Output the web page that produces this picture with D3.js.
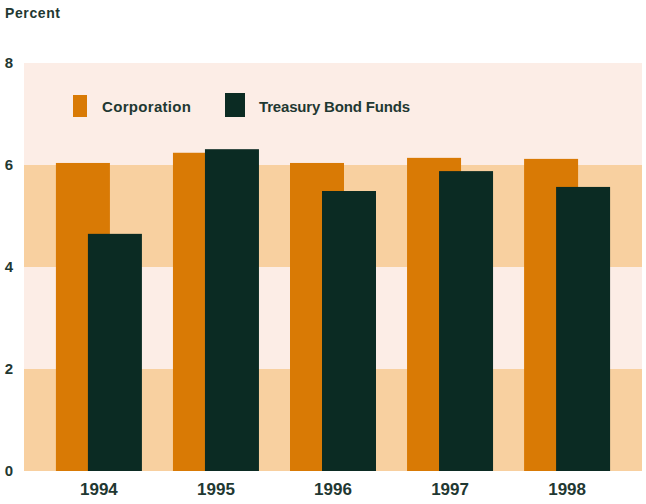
<!DOCTYPE html>
<html>
<head>
<meta charset="utf-8">
<script src="https://cdn.jsdelivr.net/npm/d3@7"></script>
<style>
  body { margin: 0; background: #fff; }
  text { font-family: "Liberation Sans Narrow", "Liberation Sans", Arial, sans-serif; font-weight: bold; fill: #1f3832; }
</style>
</head>
<body>
<svg id="chart"></svg>
<script>
// Data
const years = ["1994", "1995", "1996", "1997", "1998"];
const corporation = [6.04, 6.24, 6.04, 6.14, 6.12];
const treasury = [4.65, 6.31, 5.49, 5.88, 5.57];
const yTicks = [0, 2, 4, 6, 8];
const seriesNames = ["Corporation", "Treasury Bond Funds"];

const width = 646, height = 504;
const margin = { top: 63, right: 4, bottom: 33, left: 24 };
const innerW = width - margin.left - margin.right;
const innerH = height - margin.top - margin.bottom;
const font = "Liberation Sans Narrow, Liberation Sans, Arial, sans-serif";

const svg = d3.select("#chart")
  .attr("width", width)
  .attr("height", height);

const g = svg.append("g")
  .attr("transform", `translate(${margin.left},${margin.top})`);

const x = d3.scaleBand()
  .domain(years)
  .range([0, innerW])
  .paddingInner(0)
  .paddingOuter(0.14);

const y = d3.scaleLinear()
  .domain([0, 8])
  .range([innerH, 0]);

// alternating background bands
const bands = d3.pairs(yTicks);
g.selectAll(".band")
  .data(bands)
  .enter()
  .append("rect")
  .attr("class", "band")
  .attr("x", 0)
  .attr("width", innerW)
  .attr("y", d => y(d[1]))
  .attr("height", d => y(d[0]) - y(d[1]))
  .attr("fill", (d, i) => i % 2 === 0 ? "#f8d0a0" : "#fcede6");

// bars: orange sits behind, dark one overlaps to the right
const barW = 54;
const offset = 32;
const groupOffset = (x.bandwidth() - (barW + offset)) / 2;

g.selectAll(".corp")
  .data(corporation)
  .enter()
  .append("rect")
  .attr("class", "corp")
  .attr("x", (d, i) => x(years[i]) + groupOffset)
  .attr("y", d => y(d))
  .attr("width", barW)
  .attr("height", d => y(0) - y(d))
  .attr("fill", "#d97a05");

g.selectAll(".treas")
  .data(treasury)
  .enter()
  .append("rect")
  .attr("class", "treas")
  .attr("x", (d, i) => x(years[i]) + groupOffset + offset)
  .attr("y", d => y(d))
  .attr("width", barW)
  .attr("height", d => y(0) - y(d))
  .attr("fill", "#0b2b23");

// y axis labels
const yAxis = g.append("g")
  .call(d3.axisLeft(y).tickValues(yTicks).tickSize(0).tickPadding(11));
yAxis.select(".domain").remove();
yAxis.selectAll("text")
  .style("font-size", "15px")
  .style("font-family", font)
  .attr("fill", "#1f3832");

// x axis labels
const xAxis = g.append("g")
  .attr("transform", `translate(0,${innerH})`)
  .call(d3.axisBottom(x).tickSize(0).tickPadding(12));
xAxis.select(".domain").remove();
xAxis.selectAll("text")
  .style("font-size", "17px")
  .style("font-family", font)
  .attr("fill", "#1f3832");

// title
svg.append("text")
  .attr("x", 5)
  .attr("y", 18)
  .style("font-size", "14px")
  .attr("textLength", 55)
  .text("Percent");

// legend
const legend = g.append("g")
  .attr("transform", "translate(49,30)");

legend.append("rect")
  .attr("x", 0).attr("y", 2)
  .attr("width", 14).attr("height", 22)
  .attr("fill", "#d97a05");
legend.append("text")
  .attr("x", 29).attr("y", 19)
  .style("font-size", "15px")
  .attr("textLength", 89)
  .text(seriesNames[0]);

legend.append("rect")
  .attr("x", 152).attr("y", 0)
  .attr("width", 20).attr("height", 24)
  .attr("fill", "#0b2b23");
legend.append("text")
  .attr("x", 186).attr("y", 19)
  .style("font-size", "15px")
  .attr("textLength", 151)
  .text(seriesNames[1]);
</script>
</body>
</html>
